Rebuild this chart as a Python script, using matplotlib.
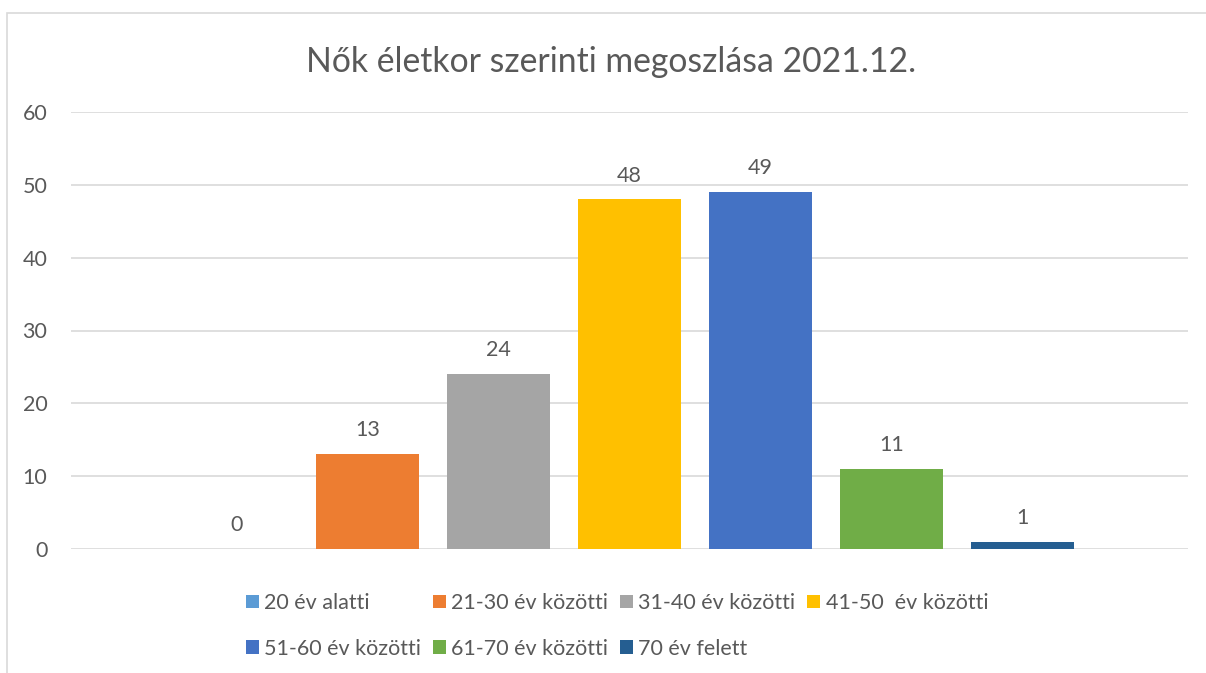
import matplotlib
matplotlib.use("Agg")
import matplotlib.pyplot as plt
from matplotlib.patches import Rectangle, Patch

plt.rcParams['font.family'] = ['Lato', 'DejaVu Sans']

# adatok
kategoriak = ['20 év alatti', '21-30 év közötti', '31-40 év közötti', '41-50  év közötti',
              '51-60 év közötti', '61-70 év közötti', '70 év felett']
ertekek = [0, 13, 24, 48, 49, 11, 1]
szinek = ['#5B9BD5', '#ED7D31', '#A5A5A5', '#FFC000', '#4472C4', '#70AD47', '#255E91']
y_ticks = [0, 10, 20, 30, 40, 50, 60]
cim = 'Nők életkor szerinti megoszlása 2021.12.'

txt = '#595959'
W, H = 1206, 673
fig = plt.figure(figsize=(W / 100, H / 100), dpi=100)

# keret
fig.patches.append(Rectangle((7 / W, -0.1), 1.2, 0.1 + (1 - 13 / H), transform=fig.transFigure,
                             fill=False, edgecolor='#D9D9D9', linewidth=1.2))

ax = fig.add_axes([71 / W, 1 - 549 / H, 1117 / W, (549 - 112) / H])
x = list(range(len(ertekek)))
bars = ax.bar(x, ertekek, width=0.786, color=szinek, zorder=3)
for xi, v in zip(x, ertekek):
    ax.annotate(str(v), (xi, v), xytext=(0, 10), textcoords='offset points',
                ha='center', va='bottom', fontsize=15.5, color=txt)

ax.set_xlim(-1.26, 7.26)
ax.set_ylim(0, 60)
ax.set_yticks(y_ticks)
ax.set_xticks([])
ax.grid(axis='y', color='#D9D9D9', linewidth=1.2, zorder=0)
for s in ax.spines.values():
    s.set_visible(False)
ax.tick_params(axis='y', length=0, pad=17, labelsize=15.5, labelcolor=txt)

fig.text(611 / W, 1 - 62 / H, cim, ha='center', va='center', fontsize=24.3, color=txt)

# legenda sorfolytonosan
handles = [Patch(facecolor=c, edgecolor='none') for c in szinek]
order = [0, 4, 1, 5, 2, 6, 3]
leg = fig.legend([handles[i] for i in order], [kategoriak[i] for i in order],
                 ncol=4, loc='upper center', bbox_to_anchor=(617 / W, 1 - 593 / H),
                 frameon=False, fontsize=15.5, handlelength=0.6, handleheight=0.6,
                 handletextpad=0.25, columnspacing=0.55, labelspacing=1.2,
                 borderpad=0, borderaxespad=0)
for t in leg.get_texts():
    t.set_color(txt)

fig.savefig('out.png', dpi=100, facecolor='white')
